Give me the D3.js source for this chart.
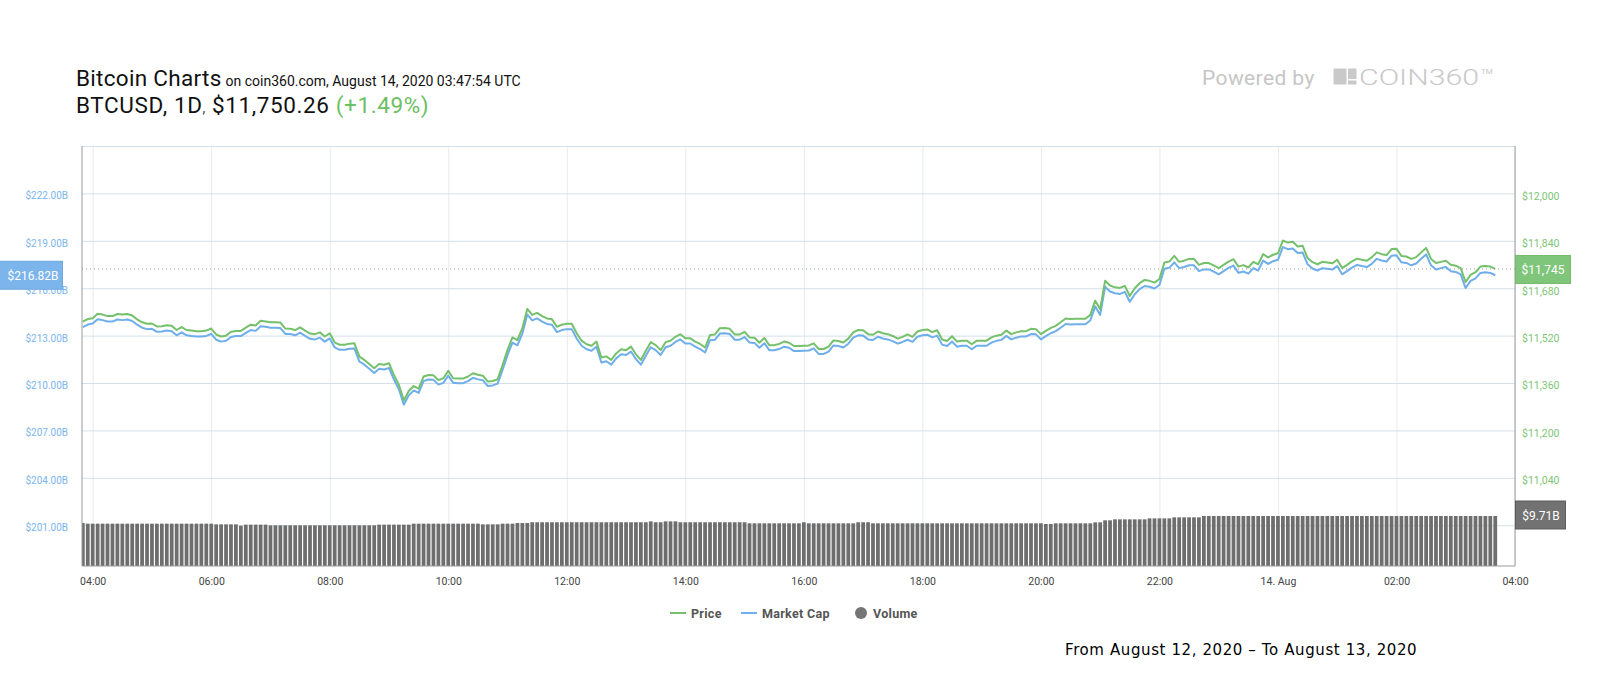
<!DOCTYPE html>
<html>
<head>
<meta charset="utf-8">
<script src="https://cdn.jsdelivr.net/npm/d3@7"></script>
<style>
  body { margin: 0; background: #fff; }
  svg { display: block; font-family: Roboto, sans-serif; }
</style>
</head>
<body>
<svg width="1600" height="700"></svg>
<script>
// ---- Data (5 minute samples, Aug 13 03:50 UTC -> Aug 14 03:40 UTC)
const startTime = Date.UTC(2020, 7, 13, 3, 50);
const stepMinutes = 5;

const price = [
  11567, 11576, 11579, 11594, 11591, 11586, 11586, 11593, 11591, 11593,
  11588, 11575, 11565, 11560, 11561, 11551, 11552, 11555, 11553, 11539,
  11549, 11539, 11537, 11535, 11535, 11537, 11544, 11524, 11517, 11520,
  11533, 11536, 11536, 11547, 11557, 11554, 11570, 11568, 11565, 11565,
  11564, 11544, 11543, 11539, 11548, 11537, 11527, 11525, 11531, 11517,
  11528, 11497, 11489, 11489, 11493, 11494, 11449, 11438, 11424, 11410,
  11424, 11422, 11427, 11387, 11354, 11301, 11333, 11350, 11341, 11382,
  11387, 11386, 11370, 11376, 11401, 11376, 11375, 11375, 11382, 11393,
  11388, 11385, 11365, 11367, 11373, 11421, 11472, 11514, 11505, 11545,
  11610, 11590, 11597, 11586, 11578, 11575, 11550, 11557, 11560, 11560,
  11528, 11503, 11491, 11486, 11500, 11446, 11450, 11438, 11460, 11474,
  11471, 11483, 11457, 11438, 11469, 11498, 11488, 11471, 11498, 11503,
  11516, 11525, 11511, 11511, 11500, 11492, 11480, 11522, 11524, 11545,
  11546, 11543, 11524, 11524, 11533, 11514, 11513, 11496, 11512, 11488,
  11488, 11492, 11500, 11496, 11485, 11485, 11486, 11487, 11494, 11475,
  11475, 11483, 11504, 11502, 11497, 11510, 11531, 11539, 11538, 11525,
  11523, 11534, 11528, 11525, 11519, 11510, 11516, 11524, 11516, 11534,
  11539, 11541, 11532, 11538, 11507, 11502, 11518, 11500, 11503, 11503,
  11491, 11503, 11503, 11503, 11514, 11520, 11523, 11537, 11525, 11531,
  11535, 11535, 11543, 11542, 11525, 11536, 11546, 11553, 11565, 11578,
  11576, 11577, 11577, 11577, 11590, 11638, 11609, 11705, 11689, 11683,
  11681, 11688, 11654, 11680, 11697, 11708, 11705, 11699, 11711, 11767,
  11770, 11789, 11769, 11773, 11779, 11779, 11759, 11765, 11765, 11757,
  11748, 11759, 11770, 11778, 11753, 11758, 11750, 11769, 11761, 11795,
  11784, 11793, 11798, 11841, 11834, 11837, 11821, 11823, 11782, 11768,
  11761, 11769, 11767, 11764, 11776, 11748, 11759, 11771, 11780, 11776,
  11773, 11784, 11801, 11795, 11792, 11812, 11813, 11789, 11787, 11779,
  11785, 11801, 11816, 11779, 11765, 11769, 11773, 11759, 11756, 11748,
  11701, 11725, 11734, 11753, 11755, 11753, 11745
];

// market cap in billions USD
const marketCap = [
  213.54, 213.70, 213.76, 214.04, 213.98, 213.89, 213.89, 214.02, 213.98, 214.02,
  213.93, 213.69, 213.50, 213.41, 213.43, 213.24, 213.26, 213.32, 213.28, 213.02,
  213.21, 213.02, 212.98, 212.95, 212.95, 212.98, 213.11, 212.74, 212.62, 212.67,
  212.91, 212.97, 212.97, 213.17, 213.35, 213.30, 213.59, 213.56, 213.50, 213.50,
  213.48, 213.11, 213.10, 213.02, 213.19, 212.98, 212.80, 212.76, 212.87, 212.62,
  212.82, 212.25, 212.10, 212.10, 212.17, 212.19, 211.36, 211.16, 210.90, 210.64,
  210.90, 210.86, 210.95, 210.22, 209.61, 208.63, 209.22, 209.53, 209.37, 210.12,
  210.22, 210.20, 209.90, 210.01, 210.47, 210.01, 209.99, 209.99, 210.12, 210.33,
  210.23, 210.18, 209.81, 209.85, 209.96, 210.84, 211.78, 212.56, 212.39, 213.13,
  214.33, 213.96, 214.09, 213.89, 213.74, 213.69, 213.22, 213.35, 213.41, 213.41,
  212.82, 212.36, 212.14, 212.04, 212.30, 211.30, 211.38, 211.16, 211.56, 211.82,
  211.77, 211.99, 211.51, 211.16, 211.73, 212.26, 212.08, 211.77, 212.26, 212.36,
  212.60, 212.76, 212.50, 212.50, 212.30, 212.15, 211.93, 212.71, 212.74, 213.13,
  213.15, 213.10, 212.74, 212.74, 212.91, 212.56, 212.54, 212.23, 212.52, 212.08,
  212.08, 212.15, 212.30, 212.23, 212.02, 212.02, 212.04, 212.06, 212.19, 211.84,
  211.84, 211.99, 212.38, 212.34, 212.25, 212.49, 212.87, 213.02, 213.00, 212.76,
  212.73, 212.93, 212.82, 212.76, 212.65, 212.49, 212.60, 212.74, 212.60, 212.93,
  213.02, 213.06, 212.89, 213.00, 212.43, 212.34, 212.63, 212.30, 212.36, 212.36,
  212.14, 212.36, 212.36, 212.36, 212.56, 212.67, 212.73, 212.98, 212.76, 212.87,
  212.95, 212.95, 213.10, 213.08, 212.76, 212.97, 213.15, 213.28, 213.50, 213.74,
  213.70, 213.72, 213.72, 213.72, 213.96, 214.85, 214.31, 216.09, 215.79, 215.68,
  215.64, 215.77, 215.14, 215.62, 215.94, 216.14, 216.09, 215.98, 216.20, 217.23,
  217.29, 217.64, 217.27, 217.34, 217.45, 217.45, 217.08, 217.19, 217.19, 217.05,
  216.88, 217.08, 217.29, 217.43, 216.97, 217.06, 216.92, 217.27, 217.12, 217.75,
  217.54, 217.71, 217.80, 218.60, 218.47, 218.52, 218.23, 218.26, 217.51, 217.25,
  217.12, 217.27, 217.23, 217.18, 217.40, 216.88, 217.08, 217.30, 217.47, 217.40,
  217.34, 217.54, 217.86, 217.75, 217.69, 218.06, 218.08, 217.64, 217.60, 217.45,
  217.56, 217.86, 218.14, 217.45, 217.19, 217.27, 217.34, 217.08, 217.03, 216.88,
  216.01, 216.46, 216.62, 216.97, 217.01, 216.97, 216.82
];

// 24h volume in billions USD
const volume = [
  8.35, 8.22, 8.22, 8.22, 8.22, 8.22, 8.22, 8.22, 8.22, 8.22,
  8.22, 8.22, 8.22, 8.22, 8.22, 8.22, 8.22, 8.22, 8.22, 8.22,
  8.22, 8.22, 8.22, 8.22, 8.22, 8.22, 8.22, 8.09, 8.09, 8.09,
  8.09, 8.09, 7.83, 8.03, 8.03, 8.03, 8.03, 8.03, 7.90, 7.90,
  7.90, 7.90, 7.90, 7.90, 7.90, 7.90, 7.90, 7.90, 7.90, 7.90,
  7.90, 7.90, 7.90, 7.90, 7.90, 7.90, 7.90, 7.90, 7.90, 7.90,
  8.03, 8.03, 8.03, 8.03, 8.03, 8.03, 8.03, 8.22, 8.22, 8.22,
  8.22, 8.22, 8.22, 8.22, 8.22, 8.22, 8.22, 8.22, 8.22, 8.22,
  8.22, 8.09, 8.09, 8.09, 8.09, 8.22, 8.22, 8.22, 8.35, 8.35,
  8.35, 8.50, 8.50, 8.50, 8.50, 8.50, 8.50, 8.50, 8.50, 8.50,
  8.50, 8.50, 8.50, 8.50, 8.50, 8.50, 8.50, 8.50, 8.50, 8.50,
  8.50, 8.50, 8.50, 8.50, 8.50, 8.67, 8.50, 8.50, 8.67, 8.67,
  8.67, 8.50, 8.50, 8.50, 8.50, 8.50, 8.50, 8.50, 8.50, 8.50,
  8.50, 8.50, 8.50, 8.50, 8.50, 8.29, 8.29, 8.29, 8.29, 8.29,
  8.29, 8.29, 8.29, 8.29, 8.29, 8.29, 8.50, 8.29, 8.29, 8.29,
  8.29, 8.29, 8.29, 8.29, 8.29, 8.29, 8.29, 8.50, 8.50, 8.50,
  8.29, 8.29, 8.29, 8.29, 8.29, 8.29, 8.29, 8.29, 8.29, 8.29,
  8.29, 8.29, 8.29, 8.29, 8.29, 8.29, 8.29, 8.29, 8.29, 8.29,
  8.29, 8.29, 8.29, 8.29, 8.29, 8.29, 8.29, 8.29, 8.29, 8.29,
  8.29, 8.29, 8.29, 8.29, 8.29, 8.16, 8.16, 8.29, 8.29, 8.29,
  8.29, 8.29, 8.29, 8.29, 8.29, 8.48, 8.48, 8.87, 8.87, 9.06,
  9.06, 9.06, 9.06, 9.06, 9.06, 9.06, 9.25, 9.25, 9.25, 9.25,
  9.25, 9.45, 9.45, 9.45, 9.45, 9.45, 9.45, 9.71, 9.71, 9.71,
  9.71, 9.71, 9.71, 9.71, 9.71, 9.71, 9.71, 9.71, 9.71, 9.71,
  9.71, 9.71, 9.71, 9.71, 9.71, 9.71, 9.71, 9.71, 9.71, 9.71,
  9.71, 9.71, 9.71, 9.71, 9.71, 9.71, 9.71, 9.71, 9.71, 9.71,
  9.71, 9.71, 9.71, 9.71, 9.71, 9.71, 9.71, 9.71, 9.71, 9.71,
  9.71, 9.71, 9.71, 9.71, 9.71, 9.71, 9.71, 9.71, 9.71, 9.71,
  9.71, 9.71, 9.71, 9.71, 9.71, 9.71, 9.71
];

const capTicks = [201, 204, 207, 210, 213, 216, 219, 222, 225];
const priceTicks = [11040, 11200, 11360, 11520, 11680, 11840, 12000];
const timeTickHours = [4, 6, 8, 10, 12, 14, 16, 18, 20, 22, 24, 26, 28];
const timeLabels = ['04:00', '06:00', '08:00', '10:00', '12:00', '14:00', '16:00',
  '18:00', '20:00', '22:00', '14. Aug', '02:00', '04:00'];

const legendItems = ['Price', 'Market Cap', 'Volume'];

// ---- Setup
const svg = d3.select('svg');
const plot = { left: 82, right: 1515, top: 146, bottom: 566 };
const plotW = plot.right - plot.left;
const plotH = plot.bottom - plot.top;

const colPrice = '#74c06b';
const colCap = '#6eaeea';
const colVol = '#6e6e6e';

svg.append('rect').attr('width', 1600).attr('height', 700).attr('fill', '#fff');

const times = price.map((_, i) => new Date(startTime + i * stepMinutes * 60000));

// ---- Escalas
const x = d3.scaleUtc()
  .domain([new Date(Date.UTC(2020, 7, 13, 3, 49, 10)), new Date(Date.UTC(2020, 7, 14, 4, 0))])
  .range([plot.left, plot.right]);

const yPrice = d3.scaleLinear().domain([10742.6, 12160]).range([plot.bottom, plot.top]);
const yCap = d3.scaleLinear().domain([198.42, 225]).range([plot.bottom, plot.top]);
const yVol = d3.scaleLinear().domain([0, 9.71]).range([plot.bottom, 516]);

// ---- Grid + axis labels
const gridX = svg.append('g')
  .attr('transform', `translate(0,${plot.bottom})`)
  .call(d3.axisBottom(x)
    .tickValues(timeTickHours.map(h => new Date(Date.UTC(2020, 7, 13, h))))
    .tickSize(-plotH)
    .tickPadding(12)
    .tickFormat((d, i) => timeLabels[i]));
gridX.select('.domain').remove();
gridX.selectAll('line').attr('stroke', '#e6eaef');
gridX.selectAll('text')
  .attr('fill', '#444')
  .style('font-family', 'Roboto')
  .style('font-size', '10.5px');

const gridY = svg.append('g')
  .attr('transform', `translate(${plot.left},0)`)
  .call(d3.axisLeft(yCap)
    .tickValues(capTicks)
    .tickSize(-plotW)
    .tickPadding(14)
    .tickFormat(d => d === 225 ? '' : `$${d.toFixed(2)}B`));
gridY.select('.domain').remove();
gridY.selectAll('line').attr('stroke', '#d3e0e9');
gridY.selectAll('text')
  .attr('fill', '#7cb5ec')
  .attr('dy', '0.55em')
  .style('font-family', 'Roboto')
  .style('font-size', '10px');

const axisR = svg.append('g')
  .attr('transform', `translate(${plot.right},0)`)
  .call(d3.axisRight(yPrice)
    .tickValues(priceTicks)
    .tickSize(0)
    .tickPadding(7)
    .tickFormat(d => '$' + d3.format(',')(d)));
axisR.select('.domain').remove();
axisR.selectAll('text')
  .attr('fill', '#7cc576')
  .attr('dy', '0.55em')
  .style('font-family', 'Roboto')
  .style('font-size', '10.5px');

// ---- Plot
svg.append('clipPath').attr('id', 'clip')
  .append('rect')
  .attr('x', plot.left).attr('y', plot.top)
  .attr('width', plotW).attr('height', plotH);

const area = svg.append('g').attr('clip-path', 'url(#clip)');

const barW = (x(times[1]) - x(times[0])) * 0.76;
area.selectAll('.bar-vol')
  .data(volume)
  .enter()
  .append('rect')
  .attr('class', 'bar-vol')
  .attr('x', (d, i) => x(times[i]) - barW / 2)
  .attr('y', d => yVol(d))
  .attr('width', barW)
  .attr('height', d => plot.bottom - yVol(d))
  .attr('fill', colVol);

const lastPrice = price[price.length - 1];
const lastCap = marketCap[marketCap.length - 1];
const lastVol = volume[volume.length - 1];

area.append('line')
  .attr('x1', plot.left).attr('x2', plot.right)
  .attr('y1', yPrice(lastPrice)).attr('y2', yPrice(lastPrice))
  .attr('stroke', '#999')
  .attr('stroke-dasharray', '1,3');

const lineCap = d3.line().x((d, i) => x(times[i])).y(d => yCap(d));
const linePrice = d3.line().x((d, i) => x(times[i])).y(d => yPrice(d));

area.append('path')
  .datum(marketCap)
  .attr('d', lineCap)
  .attr('fill', 'none')
  .attr('stroke', colCap)
  .attr('stroke-width', 2)
  .attr('stroke-linejoin', 'round');

area.append('path')
  .datum(price)
  .attr('d', linePrice)
  .attr('fill', 'none')
  .attr('stroke', colPrice)
  .attr('stroke-width', 2)
  .attr('stroke-linejoin', 'round');

// ---- Bordas
const border = svg.append('g').attr('stroke', '#9a9a9a').attr('stroke-width', 1);
border.append('line').attr('x1', plot.left).attr('x2', plot.left).attr('y1', plot.top).attr('y2', plot.bottom);
border.append('line').attr('x1', plot.right).attr('x2', plot.right).attr('y1', plot.top).attr('y2', plot.bottom);
border.append('line').attr('x1', plot.left).attr('x2', plot.right).attr('y1', plot.bottom).attr('y2', plot.bottom);

// ---- Last value badges
function badge(x0, w, cy, fill, stroke, label, cx) {
  const g = svg.append('g');
  g.append('rect')
    .attr('x', x0).attr('y', cy - 14)
    .attr('width', w).attr('height', 28)
    .attr('fill', fill).attr('stroke', stroke);
  g.append('text')
    .attr('x', cx).attr('y', cy + 4.5)
    .attr('text-anchor', 'middle')
    .attr('fill', '#fff')
    .style('font-size', '12px')
    .text(label);
}
badge(-1, 63.5, yCap(lastCap), '#7cb5ec', '#6fa8e0', `$${lastCap.toFixed(2)}B`, 33);
badge(plot.right + 0.5, 55, yPrice(lastPrice) + 0.5, '#80c67a', '#74bb6e', '$' + d3.format(',')(lastPrice), 1543);
badge(plot.right + 0.5, 50, yVol(lastVol) - 1, '#727272', '#5c5c5c', `$${lastVol.toFixed(2)}B`, 1541);

// ---- Titulo
const title = svg.append('text').attr('x', 76).attr('y', 85.5).attr('fill', '#111');
title.append('tspan').style('font-size', '22.5px').style('letter-spacing', '0.3px').text('Bitcoin Charts');
title.append('tspan').style('font-size', '14px').attr('dx', 4).text('on coin360.com, August 14, 2020 03:47:54 UTC');

const sub = svg.append('text').attr('x', 76).attr('y', 112.5).attr('fill', '#111')
  .style('letter-spacing', '0.6px');
sub.append('tspan').style('font-size', '22.5px').text('BTCUSD, 1D');
sub.append('tspan').style('font-size', '14px').attr('fill', '#444').text(',');
sub.append('tspan').style('font-size', '22.5px').text(' $11,750.26 ');
sub.append('tspan').style('font-size', '22.5px').attr('fill', '#6cbf63').text('(+1.49%)');

// ---- Powered by COIN360
svg.append('text')
  .attr('x', 1202).attr('y', 84.5)
  .attr('fill', '#c6c6c6')
  .style('font-size', '21px')
  .style('letter-spacing', '0.4px')
  .text('Powered by');
const logo = svg.append('g').attr('fill', '#c9c9c9');
logo.append('rect').attr('x', 1333.5).attr('y', 68.5).attr('width', 13).attr('height', 16);
logo.append('rect').attr('x', 1348).attr('y', 68.5).attr('width', 8.5).attr('height', 10.5);
logo.append('rect').attr('x', 1348).attr('y', 80.5).attr('width', 8.5).attr('height', 4);
logo.append('text')
  .attr('x', 1359).attr('y', 84.5)
  .attr('textLength', 120).attr('lengthAdjust', 'spacingAndGlyphs')
  .style('font-size', '22.5px').style('font-weight', 300)
  .text('COIN360');
logo.append('text')
  .attr('x', 1481).attr('y', 74)
  .style('font-size', '8px')
  .text('TM');

// ---- Legenda
const legend = svg.append('g').attr('transform', 'translate(0,613)');
const legendX = [670, 741, 855];
legendItems.forEach((name, i) => {
  if (i < 2) {
    legend.append('line')
      .attr('x1', legendX[i]).attr('x2', legendX[i] + 16)
      .attr('stroke', i === 0 ? colPrice : colCap)
      .attr('stroke-width', 2);
  } else {
    legend.append('circle').attr('cx', legendX[i] + 6).attr('r', 6).attr('fill', '#757575');
  }
  legend.append('text')
    .attr('x', legendX[i] + (i < 2 ? 21 : 18)).attr('y', 4.5)
    .attr('fill', '#555')
    .style('font-size', '12.5px')
    .style('font-weight', 'bold')
    .style('letter-spacing', '0.3px')
    .text(name);
});

// ---- Rodape
svg.append('text')
  .attr('x', 1065).attr('y', 655)
  .attr('fill', '#000')
  .style('font-family', 'DejaVu Sans')
  .style('font-size', '15px')
  .style('letter-spacing', '0.6px')
  .text('From August 12, 2020 – To August 13, 2020');
</script>
</body>
</html>
